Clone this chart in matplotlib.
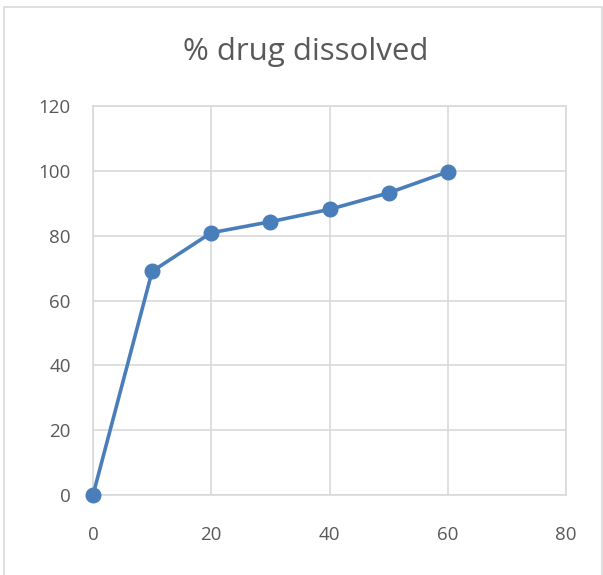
import matplotlib
matplotlib.use('Agg')
import matplotlib.pyplot as plt
from matplotlib.patches import Rectangle

time_min = [0, 10, 20, 30, 40, 50, 60]
pct_dissolved = [0, 69.0, 80.9, 84.3, 88.1, 93.2, 99.7]
x_ticks = [0, 20, 40, 60, 80]
y_ticks = [0, 20, 40, 60, 80, 100, 120]

plt.rcParams['font.family'] = ['Open Sans', 'DejaVu Sans']

fig = plt.figure(figsize=(6.03, 5.75), dpi=100)
fig.patches.append(Rectangle((4 / 603, -0.01), 598 / 603, 1 - 7 / 575 + 0.01,
                             transform=fig.transFigure, fill=False,
                             edgecolor='#d9d9d9', linewidth=1.2))

ax = fig.add_axes([93 / 603, 80 / 575, 473 / 603, 389 / 575])
ax.plot(time_min, pct_dissolved, color='#4a7ebb', linewidth=2.6,
        marker='o', markersize=10.5, clip_on=False, zorder=3)

ax.set_xlim(0, 80)
ax.set_ylim(0, 120)
ax.set_xticks(x_ticks)
ax.set_yticks(y_ticks)
ax.grid(True, color='#d9d9d9', linewidth=1.2)
ax.set_axisbelow(True)
for s in ax.spines.values():
    s.set_color('#d9d9d9')
    s.set_linewidth(1.2)
ax.tick_params(length=0, labelsize=13.5, labelcolor='#595959')
ax.tick_params(axis='x', pad=22)
ax.tick_params(axis='y', pad=16)

fig.text(306 / 603, 1 - 52 / 575, '% drug dissolved', ha='center', va='center',
         fontsize=22.5, color='#595959')

fig.savefig('out.png', dpi=100)
